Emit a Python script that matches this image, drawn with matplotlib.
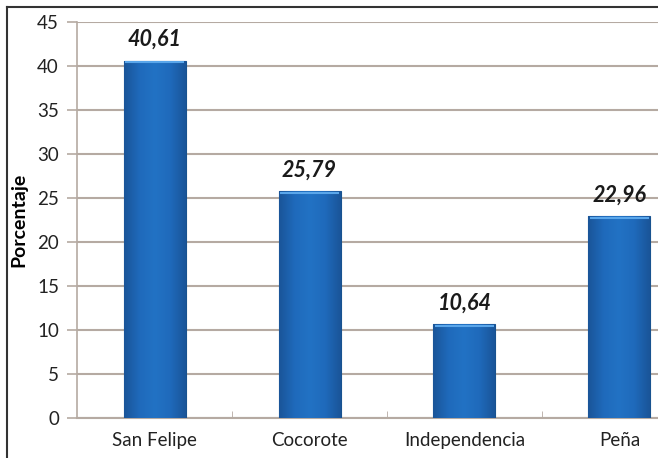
import numpy as np
import matplotlib.pyplot as plt
from matplotlib.colors import LinearSegmentedColormap

categories = ["San Felipe", "Cocorote", "Independencia", "Peña"]
values = [40.61, 25.79, 10.64, 22.96]
labels = ["40,61", "25,79", "10,64", "22,96"]
yticks = [0, 5, 10, 15, 20, 25, 30, 35, 40, 45]

plt.rcParams['font.family'] = ['Lato', 'DejaVu Sans']

fig = plt.figure(figsize=(6.58, 4.58), dpi=100)
fig.patch.set_facecolor('white')
# plot area runs past the right edge, like the cropped original
ax = fig.add_axes([77 / 658, 40 / 458, 620 / 658, 396 / 458])

grid_c = '#b5aaa2'
x = np.arange(len(categories))
bars = ax.bar(x, values, width=0.4, color='#1c66b6', edgecolor='#18528f', linewidth=0.8, zorder=3)

# horizontal gradient in each bar
cmap = LinearSegmentedColormap.from_list('b', ['#1a5599', '#1f6abb', '#2272c4', '#1f6abb', '#1a5599'])
grad = np.linspace(0, 1, 100).reshape(1, -1)
for b in bars:
    x0, w, h = b.get_x(), b.get_width(), b.get_height()
    im = ax.imshow(grad, cmap=cmap, extent=[x0, x0 + w, 0, h], aspect='auto', zorder=3.5)
    im.set_clip_path(b)
    ax.plot([x0 + 0.01, x0 + w - 0.01], [h - 0.2, h - 0.2], color='#5aa6ea', lw=1.5, zorder=4,
            solid_capstyle='butt')

for xi, v, lab in zip(x, values, labels):
    ax.text(xi, v + 1.2, lab, ha='center', va='bottom', fontsize=15.5, fontweight='bold',
            fontstyle='italic', color='#1a1a1a', zorder=5)

ax.set_xlim(-0.5, 3.5)
ax.set_ylim(0, 45)
ax.set_yticks(yticks)
ax.set_yticklabels([str(t) for t in yticks], fontsize=13.5, color='#222222')
ax.set_xticks(x)
ax.set_xticklabels(categories, fontsize=13.5, color='#222222')
ax.set_xticks([0.5, 1.5, 2.5], minor=True)
ax.tick_params(axis='x', which='major', length=0, pad=10)
ax.tick_params(axis='x', which='minor', length=5, color=grid_c, direction='in')
ax.tick_params(axis='y', length=7, color=grid_c, width=1.2, pad=6)
ax.yaxis.grid(True, color=grid_c, linewidth=1.5, zorder=0)
ax.set_axisbelow(True)
for s in ['top', 'right']:
    ax.spines[s].set_visible(False)
ax.spines['left'].set_color(grid_c)
ax.spines['left'].set_linewidth(1.2)
ax.spines['bottom'].set_color(grid_c)
ax.spines['bottom'].set_linewidth(1.5)
ax.set_ylabel('Porcentaje', fontsize=14, fontweight='bold')
ax.yaxis.set_label_coords(-0.08, 0.5)

# outer frame (left and top edges)
fig.add_artist(plt.Line2D([7 / 658, 7 / 658], [0, 1 - 7 / 458], transform=fig.transFigure, color='#333333', lw=1.5))
fig.add_artist(plt.Line2D([7 / 658, 1], [1 - 7 / 458, 1 - 7 / 458], transform=fig.transFigure, color='#333333', lw=1.5))

fig.savefig('out.png', dpi=100)
